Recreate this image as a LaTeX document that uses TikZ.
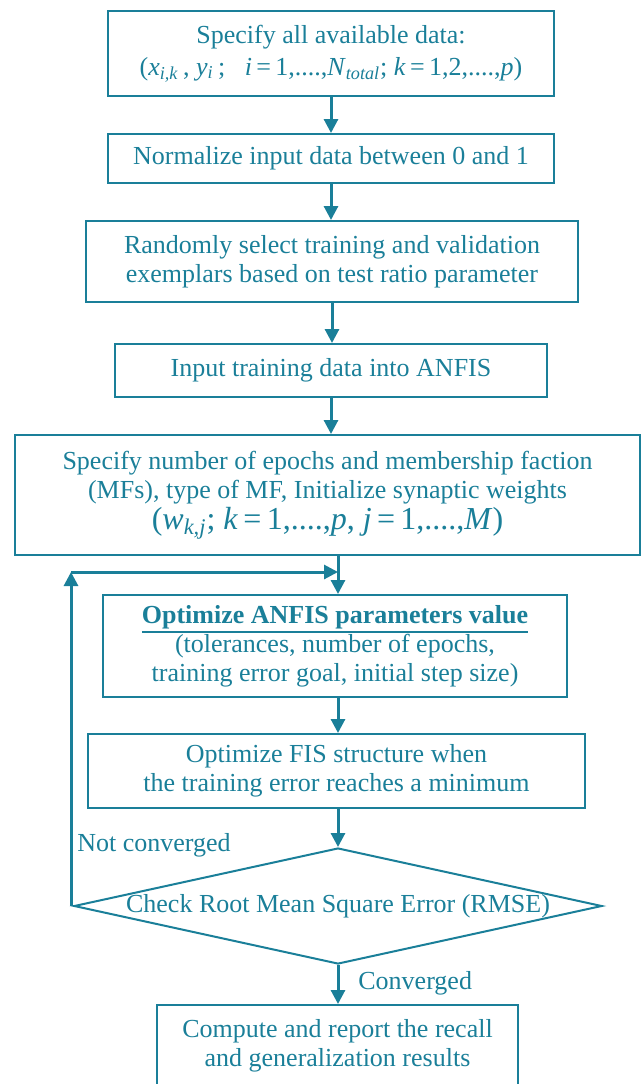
\documentclass[tikz,border=0pt]{standalone}
\usepackage{fontspec}
\setmainfont{Liberation Serif}
\usetikzlibrary{arrows.meta,shapes.geometric}
\definecolor{teal1}{HTML}{1A7F99}
\newcommand{\iv}[1]{\textit{#1}}
\newcommand{\isub}[1]{\textsubscript{\textit{#1}}}
% underline drawn as a heavier rule below the text
\newcommand{\thickul}[1]{\leavevmode\vtop{\hbox{#1}\kern1.2pt\hrule height 0.9pt}}
\begin{document}
\begin{tikzpicture}[x=0.5pt,y=-0.5pt,
  every node/.style={text=teal1, font=\fontsize{13}{14.5}\selectfont},
  stepbox/.style={draw=teal1, line width=1pt, rectangle, inner sep=0pt, align=center},
  decision/.style={draw=teal1, line width=1pt, diamond, inner sep=0pt, aspect=4.55,
    minimum width=264pt, minimum height=58pt},
  arr/.style={draw=teal1, line width=1.5pt, -{Triangle[length=7pt,width=7pt]}},
  lbl/.style={inner sep=0pt}]
\useasboundingbox (0,0) rectangle (641,1084);
\clip (0,0) rectangle (641,1084);

% process steps
\node[stepbox, minimum width=223pt, minimum height=42.5pt] (b1) at (331,53.5)
  {Specify all available data:\\[1.5pt]
   (\iv{x}\isub{i,k}\,, \iv{y}\isub{i}\,;\enspace\ \iv{i}\,=\,1,....,\iv{N}\isub{total}; \iv{k}\,=\,1,2,....,\iv{p})};
\node[stepbox, minimum width=223pt, minimum height=24.5pt] (b2) at (331,158.5)
  {Normalize input data between 0 and 1};
\node[stepbox, minimum width=246pt, minimum height=40.5pt] (b3) at (332,261.5)
  {Randomly select training and validation\\ exemplars based on test ratio parameter};
\node[stepbox, minimum width=216pt, minimum height=26.5pt] (b4) at (331,370.5)
  {Input training data into ANFIS};
\node[stepbox, minimum width=312.5pt, minimum height=60pt] (b5) at (327.5,495)
  {Specify number of epochs and membership faction\\
   (MFs), type of MF, Initialize synaptic weights\\[1pt]
   {\fontsize{16}{18}\selectfont(\iv{w}\isub{k,j}; \iv{k}\,=\,1,....,\iv{p}, \iv{j}\,=\,1,....,\iv{M})}};
\node[stepbox, minimum width=232pt, minimum height=51pt] (b6) at (335,646)
  {\thickul{\bfseries Optimize ANFIS parameters value}\\
   (tolerances, number of epochs,\\ training error goal, initial step size)};
\node[stepbox, minimum width=248.5pt, minimum height=37pt] (b7) at (336.5,771)
  {Optimize FIS structure when\\ the training error reaches a minimum};
\node[decision, label={center:Check Root Mean Square Error (RMSE)}] (chk) at (338,906) {};
\node[stepbox, minimum width=180.5pt, minimum height=40.5pt] (b8) at (337.5,1045.5)
  {Compute and report the recall\\ and generalization results};

% return point of the iteration loop
\coordinate (loop) at (338,572);

% connectors
\draw[arr] (b1.south) -- (b1.south |- b2.north);
\draw[arr] (b2.south) -- (b2.south |- b3.north);
\draw[arr] (b3.south) -- (b3.south |- b4.north);
\draw[arr] (b4.south) -- (b4.south |- b5.north);
\draw[arr] (b5.south -| chk.north) -- (b6.north -| chk.north);
\draw[arr] (b6.south -| chk.north) -- (b7.north -| chk.north);
\draw[arr] (b7.south -| chk.north) -- (chk.north);
\draw[arr] (chk.south) -- (b8.north -| chk.south);
\draw[arr] ([xshift=-1pt]chk.west) -- ([xshift=-1pt]chk.west |- loop);
\draw[arr] ([xshift=-1pt]chk.west |- loop) -- (loop);

% branch labels
\node[lbl, anchor=west] (nc) at (77,845) {Not converged};
\node[lbl, anchor=west] (cv) at (358,983) {Converged};
\end{tikzpicture}
\end{document}
